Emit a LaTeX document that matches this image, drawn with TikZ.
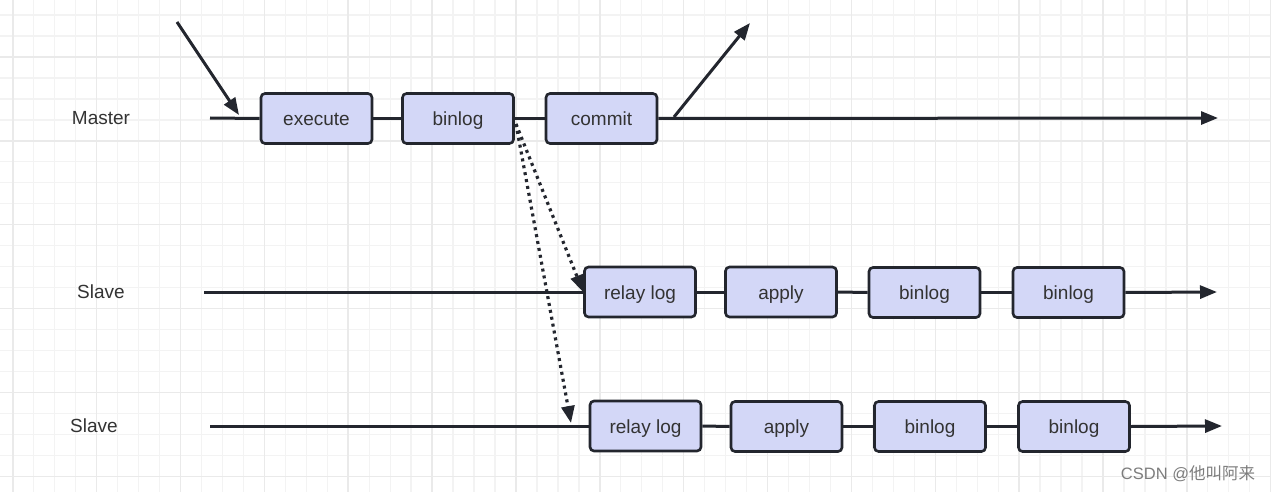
\documentclass[tikz,border=0pt]{standalone}
\usepackage{fontspec}
\setmainfont{Liberation Sans}
\newfontfamily\cjk{Noto Sans CJK SC}
\usetikzlibrary{arrows.meta}
\definecolor{boxfill}{RGB}{211,215,247}
\definecolor{boxline}{RGB}{35,38,46}
\definecolor{txt}{RGB}{51,51,51}
\definecolor{gridminor}{RGB}{243,243,243}
\definecolor{gridmajor}{RGB}{234,234,234}
\tikzset{
  stepbox/.style={draw=boxline, fill=boxfill, line width=2.6pt, rounded corners=4pt,
    minimum width=111pt, minimum height=50pt, inner sep=0pt, text=txt,
    text height=14pt, text depth=0pt, font=\fontsize{19}{21}\selectfont},
  rolelabel/.style={text=txt, font=\fontsize{19}{21}\selectfont, inner sep=0pt},
  tl/.style={draw=boxline, line width=3pt},
  arr/.style={tl, -{Triangle[length=17pt,width=13pt]}},
  dotarr/.style={draw=boxline, line width=3.2pt, dash pattern=on 3pt off 4pt, -{Triangle[length=17pt,width=13pt]}},
}
\begin{document}
\begin{tikzpicture}[x=1pt,y=-1pt]
\useasboundingbox (0,0) rectangle (1271,492);
\fill[white] (0,0) rectangle (1271,492);
% grid
\foreach \i in {-1,...,62} {
  \pgfmathsetmacro\gx{12.8+20.965*\i}
  \draw[gridminor, line width=1.3pt] (\gx,0) -- (\gx,492);
}
\foreach \i in {-3,...,24} {
  \pgfmathsetmacro\gy{57+20.965*\i}
  \draw[gridminor, line width=1.3pt] (0,\gy) -- (1271,\gy);
}
\foreach \i in {0,...,15} {
  \pgfmathsetmacro\gx{12.8+83.86*\i}
  \draw[gridmajor, line width=1.5pt] (\gx,0) -- (\gx,492);
}
\foreach \i in {-1,...,6} {
  \pgfmathsetmacro\gy{57+83.86*\i}
  \draw[gridmajor, line width=1.5pt] (0,\gy) -- (1271,\gy);
}
% labels
\node[rolelabel] (lm) at (101,118) {Master};
\node[rolelabel] (ls1) at (101,292) {Slave};
\node[rolelabel] (ls2) at (94,426) {Slave};
% master
\coordinate (m0) at (210,118);
\coordinate (mend) at (1218,118);
\node[stepbox] (mexec) at (316.5,118.5) {execute};
\node[stepbox] (mbin) at (458,118.5) {binlog};
\node[stepbox] (mcom) at (601.5,118.5) {commit};
\draw[tl] (m0) -- (mexec.west);
\draw[tl] (mexec.east) -- (mbin.west);
\draw[tl] (mbin.east) -- (mcom.west);
\draw[arr] (mcom.east) -- (mend);
\coordinate (inS) at (177,22);
\coordinate (inE) at (239,115);
\draw[arr] (inS) -- (inE);
\coordinate (outS) at (674,117);
\coordinate (outE) at (750,23);
\draw[arr] (outS) -- (outE);
% slave 1
\coordinate (s10) at (204,292);
\coordinate (s1end) at (1217,292);
\node[stepbox] (s1relay) at (640,292) {relay log};
\node[stepbox] (s1apply) at (781,292) {apply};
\node[stepbox] (s1bin1) at (924.5,292.5) {binlog};
\node[stepbox] (s1bin2) at (1068.5,292.5) {binlog};
\draw[tl] (s10) -- (s1relay.west);
\draw[tl] (s1relay.east) -- (s1apply.west);
\draw[tl] (s1apply.east) -- (s1bin1.west);
\draw[tl] (s1bin1.east) -- (s1bin2.west);
\draw[arr] (s1bin2.east) -- (s1end);
% slave 2
\coordinate (s20) at (210,426);
\coordinate (s2end) at (1222,426);
\node[stepbox] (s2relay) at (645.5,426) {relay log};
\node[stepbox] (s2apply) at (786.5,426.5) {apply};
\node[stepbox] (s2bin1) at (930,426.5) {binlog};
\node[stepbox] (s2bin2) at (1074,426.5) {binlog};
\draw[tl] (s20) -- (s2relay.west);
\draw[tl] (s2relay.east) -- (s2apply.west);
\draw[tl] (s2apply.east) -- (s2bin1.west);
\draw[tl] (s2bin1.east) -- (s2bin2.west);
\draw[arr] (s2bin2.east) -- (s2end);
% dotted
\coordinate (dS) at (516,124);
\coordinate (d2E) at (571,423);
\draw[dotarr] (dS) -- (s1relay.west);
\draw[dotarr] (dS) -- (d2E);
% watermark
\node[text={rgb,255:red,125;green,125;blue,125}, font=\fontsize{16.5}{18}\selectfont, inner sep=0pt] (wm) at (1188,474) {CSDN @{\cjk 他叫阿来}};
\end{tikzpicture}
\end{document}
